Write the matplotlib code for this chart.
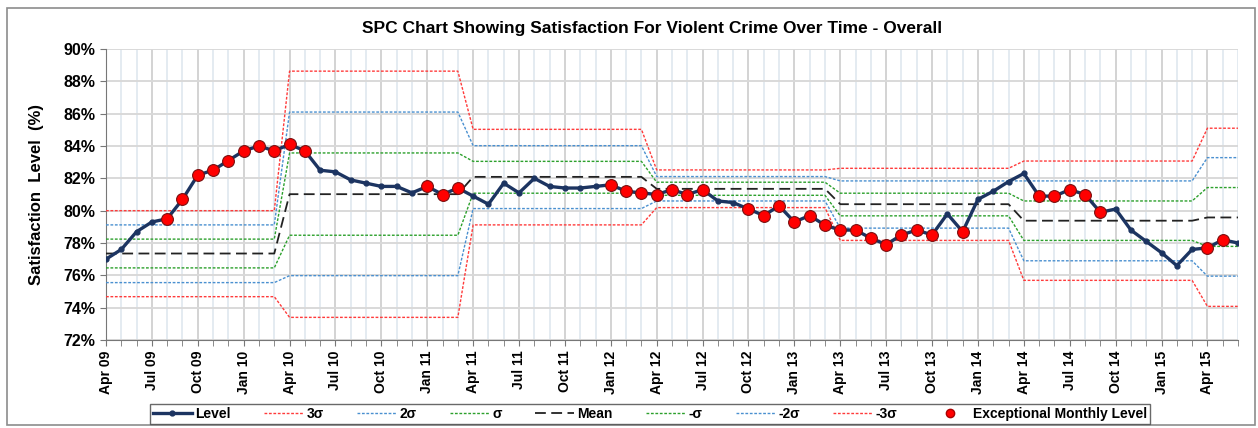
"""
SPC chart: satisfaction for violent crime over time (overall), monthly Apr 09 - Jun 15.
Output: out.png (1258x428)
"""
import numpy as np
import matplotlib
matplotlib.use("Agg")
import matplotlib.pyplot as plt
from matplotlib.patches import Rectangle
from matplotlib.lines import Line2D

plt.rcParams["font.family"] = ["Liberation Sans", "DejaVu Sans"]

# monthly satisfaction level (%), Apr 09 .. Jun 15
level = [77.0, 77.6, 78.7, 79.3, 79.5, 80.7, 82.2, 82.5, 83.1, 83.7, 84.0, 83.7,
         84.1, 83.7, 82.5, 82.4, 81.9, 81.7, 81.5, 81.5, 81.1, 81.5, 81.0, 81.4,
         80.9, 80.4, 81.7, 81.1, 82.0, 81.5, 81.4, 81.4, 81.5, 81.6, 81.2, 81.1,
         81.0, 81.3, 81.0, 81.3, 80.6, 80.5, 80.1, 79.7, 80.3, 79.3, 79.7, 79.1,
         78.8, 78.8, 78.3, 77.9, 78.5, 78.8, 78.5, 79.8, 78.7, 80.7, 81.2, 81.8,
         82.3, 80.9, 80.9, 81.3, 81.0, 79.9, 80.1, 78.8, 78.1, 77.4, 76.6, 77.6,
         77.7, 78.2, 78.0]
# months flagged as exceptional (index into level)
exceptional = [4, 5, 6, 7, 8, 9, 10, 11, 12, 13, 21, 22, 23,
               33, 34, 35, 36, 37, 38, 39,
               42, 43, 44, 45, 46, 47, 48, 49, 50, 51, 52, 53, 54, 56,
               61, 62, 63, 64, 65, 72, 73]

# control limits per phase (each phase starts in April)
phase_len = [12, 12, 12, 12, 12, 12, 3]
mean_ph = [77.35, 81.02, 82.09, 81.35, 80.40, 79.38, 79.58]
p1s_ph = [78.24, 83.57, 83.05, 81.76, 81.08, 80.60, 81.43]
p2s_ph = [79.12, 86.10, 84.02, 82.11, 81.84, 81.84, 83.28]
p3s_ph = [80.00, 88.63, 85.03, 82.52, 82.62, 83.07, 85.10]
m1s_ph = [76.46, 78.48, 81.08, 80.95, 79.68, 78.16, 77.79]
m2s_ph = [75.55, 75.98, 80.13, 80.60, 78.92, 76.90, 75.95]
m3s_ph = [74.68, 73.40, 79.12, 80.19, 78.16, 75.69, 74.08]

tick_labels = ["Apr 09", "Jul 09", "Oct 09", "Jan 10", "Apr 10", "Jul 10", "Oct 10",
               "Jan 11", "Apr 11", "Jul 11", "Oct 11", "Jan 12", "Apr 12", "Jul 12",
               "Oct 12", "Jan 13", "Apr 13", "Jul 13", "Oct 13", "Jan 14", "Apr 14",
               "Jul 14", "Oct 14", "Jan 15", "Apr 15"]


def main():
    n = len(level)
    x = np.arange(n)
    y = np.array(level)

    fig = plt.figure(figsize=(12.58, 4.28), dpi=100)
    ax = fig.add_axes([106 / 1258, 1 - 340 / 428, (1238 - 106) / 1258, (340 - 49) / 428])

    # outer chart border
    fig.patches.append(Rectangle((7 / 1258, 3 / 428), 1248 / 1258, 417 / 428,
                                 transform=fig.transFigure, fill=False,
                                 edgecolor="#8c8c8c", lw=1.2))

    # grid
    for m in range(n):
        ax.axvline(m, color="#c8c8c8" if m % 3 == 0 else "#dde5ee",
                   lw=1.1, zorder=0)
    for v in range(72, 91, 2):
        ax.axhline(v, color="#d9d9d9", lw=1.4, zorder=0)

    red, blue, green = "#ff3b3b", "#4a90d0", "#2ca02c"
    dot = (0, (2, 1.2))
    lines = [
        (p3s_ph, red, dot, "3σ"), (p2s_ph, blue, dot, "2σ"), (p1s_ph, green, dot, "σ"),
        (mean_ph, "#222222", (0, (6, 3)), "Mean"),
        (m1s_ph, green, dot, "-σ"), (m2s_ph, blue, dot, "-2σ"), (m3s_ph, red, dot, "-3σ"),
    ]
    handles = []
    h_level, = ax.plot(x, y, "-", color="#1c3461", lw=2.4, marker="o", ms=3.5,
                       zorder=5, label="Level")
    handles.append(h_level)
    for vals, col, ls, lab in lines:
        yy = np.repeat(vals, phase_len)
        h, = ax.plot(x, yy, color=col, lw=1.0, linestyle=ls, zorder=3, label=lab)
        if lab == "Mean":
            h.set_linewidth(1.3)
        handles.append(h)
    ex = np.array(exceptional)
    ax.plot(ex, y[ex], "o", ms=8.5, mfc="#ff0000", mec="#7a1010", mew=0.8,
            linestyle="none", zorder=6)
    handles.append(Line2D([], [], marker="o", ms=6, mfc="#ff0000", mec="#aa0000",
                          linestyle="none", label="Exceptional Monthly Level"))

    ax.set_xlim(0, n - 1)
    ax.set_ylim(72, 90)
    ax.set_yticks(range(72, 91, 2))
    ax.set_yticklabels([f"{v}%" for v in range(72, 91, 2)], fontsize=11.5, fontweight="bold")
    ax.set_xticks(range(0, n, 3))
    ax.set_xticklabels(tick_labels, rotation=90, fontsize=10, fontweight="bold")
    ax.set_xticks(range(n), minor=True)
    ax.tick_params(axis="x", which="both", direction="out", length=4, color="#777777")
    ax.tick_params(axis="y", direction="out", length=4, color="#777777")
    for s in ["top", "right"]:
        ax.spines[s].set_visible(False)
    for s in ["left", "bottom"]:
        ax.spines[s].set_color("#777777")

    ax.set_ylabel("Satisfaction  Level  (%)", fontsize=12, fontweight="bold", labelpad=14)
    fig.text(0.518, 1 - 28 / 428, "SPC Chart Showing Satisfaction For Violent Crime Over Time - Overall",
             ha="center", va="center", fontsize=12.5, fontweight="bold")

    leg = fig.legend(handles=handles, loc="center", ncol=9,
                     bbox_to_anchor=(650 / 1258, 1 - 414 / 428), fontsize=10,
                     frameon=True, fancybox=False, edgecolor="#444444",
                     handlelength=2.8, columnspacing=2.4, handletextpad=0.25,
                     borderpad=0.2)
    leg.get_frame().set_linewidth(1.0)
    for t in leg.get_texts():
        t.set_fontweight("bold")

    fig.savefig("out.png", dpi=100)
    plt.close(fig)


if __name__ == "__main__":
    main()
